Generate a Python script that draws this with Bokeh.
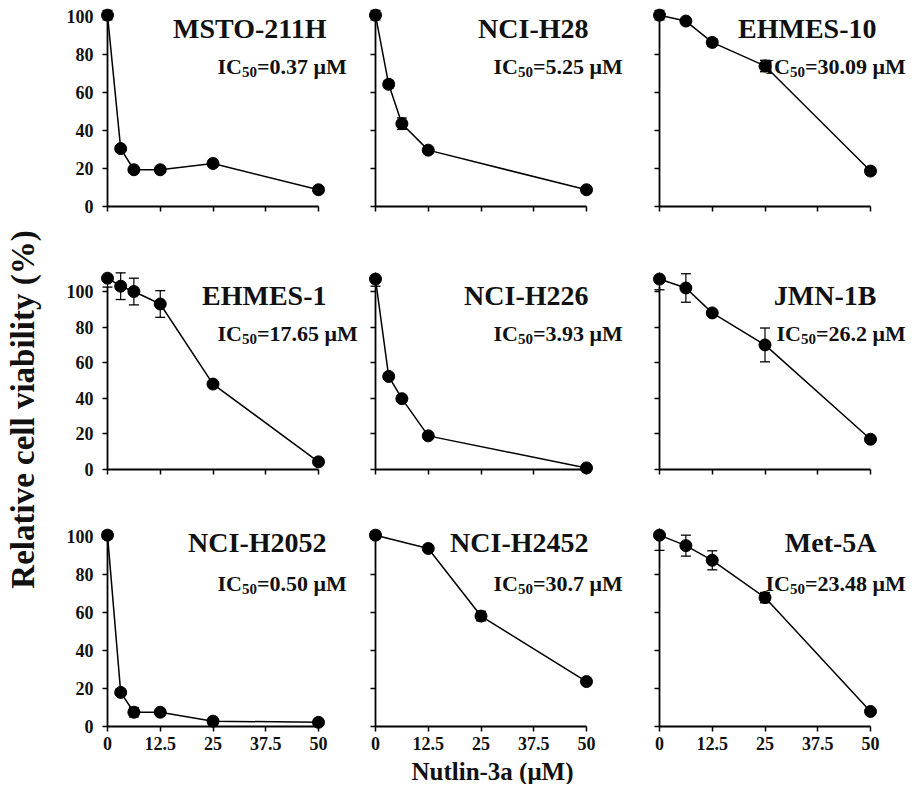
import math
from bokeh.plotting import figure
from bokeh.models import Range1d, Label, FixedTicker, CustomJSTickFormatter
from bokeh.layouts import row, column
from bokeh.embed import file_html
from bokeh.resources import INLINE
from bokeh.core.validation import silence
from bokeh.core.validation.warnings import MISSING_RENDERERS

silence(MISSING_RENDERERS, True)

# ---------------- data ----------------
cell_lines = ["MSTO-211H", "NCI-H28", "EHMES-10",
              "EHMES-1", "NCI-H226", "JMN-1B",
              "NCI-H2052", "NCI-H2452", "Met-5A"]
ic50_values = ["0.37", "5.25", "30.09",
               "17.65", "3.93", "26.2",
               "0.50", "30.7", "23.48"]

doses_msto = [0, 3.125, 6.25, 12.5, 25, 50]
via_msto = [100.5, 30.4, 19.3, 19.3, 22.6, 8.8]
err_msto = [2.5, 1.5, 1.5, 1.0, 1.5, 1.5]

doses_h28 = [0, 3.125, 6.25, 12.5, 50]
via_h28 = [100.5, 64.2, 43.5, 29.6, 8.8]
err_h28 = [2.5, 2.0, 3.0, 1.0, 1.5]

doses_ehmes10 = [0, 6.25, 12.5, 25, 50]
via_ehmes10 = [100.5, 97.4, 86.2, 73.8, 18.6]
err_ehmes10 = [2.5, 1.0, 2.0, 3.0, 1.5]

doses_ehmes1 = [0, 3.125, 6.25, 12.5, 25, 50]
via_ehmes1 = [107.5, 103.0, 100.0, 93.0, 48.0, 4.3]
err_ehmes1 = [5.0, 7.5, 7.5, 7.5, 1.5, 1.5]

doses_h226 = [0, 3.125, 6.25, 12.5, 50]
via_h226 = [107.0, 52.3, 39.8, 18.9, 0.9]
err_h226 = [4.0, 1.5, 1.5, 1.5, 1.0]

doses_jmn1b = [0, 6.25, 12.5, 25, 50]
via_jmn1b = [107.0, 102.0, 88.0, 70.0, 17.0]
err_jmn1b = [6.0, 8.0, 1.0, 9.5, 1.5]

doses_h2052 = [0, 3.125, 6.25, 12.5, 25, 50]
via_h2052 = [100.5, 17.9, 7.5, 7.5, 2.8, 2.2]
err_h2052 = [2.0, 1.0, 2.5, 1.0, 2.0, 1.0]

doses_h2452 = [0, 12.5, 25, 50]
via_h2452 = [100.5, 93.5, 58.0, 23.6]
err_h2452 = [2.0, 1.0, 2.5, 1.0]

doses_met5a = [0, 6.25, 12.5, 25, 50]
via_met5a = [100.5, 95.0, 87.3, 67.7, 7.9]
err_met5a = [8.0, 5.5, 5.0, 2.7, 1.0]

x_ticks = [0, 12.5, 25, 37.5, 50]
y_ticks = [0, 20, 40, 60, 80, 100]

series = [
    (doses_msto, via_msto, err_msto),
    (doses_h28, via_h28, err_h28),
    (doses_ehmes10, via_ehmes10, err_ehmes10),
    (doses_ehmes1, via_ehmes1, err_ehmes1),
    (doses_h226, via_h226, err_h226),
    (doses_jmn1b, via_jmn1b, err_jmn1b),
    (doses_h2052, via_h2052, err_h2052),
    (doses_h2452, via_h2452, err_h2452),
    (doses_met5a, via_met5a, err_met5a),
]

# ---------------- layout / style ----------------
FONT = "Liberation Serif"
INK = "#111111"
TOTAL_W, TOTAL_H = 908, 784
YLAB_W = 44

# column geometry (page pixels)
COL_L = [44, 362, 646, 908]        # figure edges
X0 = [107, 375, 659]               # pixel of dose 0
SX = 211 / 50.0                    # pixels per dose unit

# row geometry (page pixels)
ROW_T = [0, 240, 497, 758]         # figure edges
Y0 = [206, 469, 726]               # pixel of 0 %
SY = [1.903, 1.776, 1.903]         # pixels per % unit
Y_TOP = [104.0, 110.7, 104.0]      # top of each plot area (%)
Y_AXIS_END = [100, 103, 100]       # where the drawn y-axis line stops

TITLE_PX = [326, 588, 876]
TITLE_PY = [28, 295, 542]
IC_PX = [217, 493, 782]
IC_PY = [66, 333, 583]
IC_SIZE = 22
SUB_SIZE = 15
TICK_SIZE = "18px"

# Times / Liberation Serif Bold advance widths (em)
W_EM = {"I": 0.389, "C": 0.722, "=": 0.570, ".": 0.25, " ": 0.25,
        "\u03bc": 0.556, "M": 0.943}


def text_w(s, size):
    return sum(W_EM.get(ch, 0.5) for ch in s) * size


def style_axis(ax, standoff):
    ax.axis_line_color = "black"
    ax.axis_line_width = 1.8
    ax.major_tick_line_color = "black"
    ax.major_tick_line_width = 1.5
    ax.major_tick_out = 5
    ax.major_tick_in = 0
    ax.minor_tick_out = 0
    ax.minor_tick_in = 0
    ax.major_label_text_font = FONT
    ax.major_label_text_font_style = "bold"
    ax.major_label_text_font_size = TICK_SIZE
    ax.major_label_text_color = INK
    ax.major_label_standoff = standoff


def make_panel(i):
    r, c = divmod(i, 3)
    doses, via, err = series[i]
    fw = COL_L[c + 1] - COL_L[c]
    fh = ROW_T[r + 1] - ROW_T[r]
    bl = X0[c] - COL_L[c]
    bt = int(round(Y0[r] - Y_TOP[r] * SY[r])) - ROW_T[r]
    bb = ROW_T[r + 1] - Y0[r]
    frame_w = fw - bl
    p = figure(width=fw, height=fh,
               x_range=Range1d(0, frame_w / SX), y_range=Range1d(0, Y_TOP[r]),
               output_backend="svg", toolbar_location=None,
               min_border_left=bl, min_border_right=0,
               min_border_top=bt, min_border_bottom=bb)
    p.outline_line_color = None
    p.grid.visible = False
    show_x = (r == 2)
    show_y = (c == 0)
    xax = p.below[0]
    yax = p.left[0]
    xax.bounds = (0, 50)
    yax.bounds = (0, Y_AXIS_END[r])
    xax.ticker = FixedTicker(ticks=x_ticks)
    yax.ticker = FixedTicker(ticks=y_ticks)
    xax.formatter = CustomJSTickFormatter(code="return tick.toString()" if show_x else "return ''")
    yax.formatter = CustomJSTickFormatter(code="return tick.toString()" if show_y else "return ''")
    style_axis(xax, 5 if show_x else 0)
    style_axis(yax, 9 if show_y else 0)

    # error bars: the plot area cuts off what lies above its top
    top = Y_TOP[r]
    lo = [v - e for v, e in zip(via, err)]
    hi = [min(v + e, top) for v, e in zip(via, err)]
    cap_x = [d for d, v, e in zip(doses, via, err) if v + e <= top]
    cap_hi = [v + e for v, e in zip(via, err) if v + e <= top]

    lvl = "overlay"
    p.line(doses, via, line_color="black", line_width=1.5, level=lvl)
    p.segment(x0=doses, y0=lo, x1=doses, y1=hi, line_color="black", line_width=1.2, level=lvl)
    p.scatter(doses, lo, marker="dash", size=10, line_color="black", line_width=1.3, level=lvl)
    p.scatter(cap_x, cap_hi, marker="dash", size=10, line_color="black", line_width=1.3, level=lvl)
    p.scatter(doses, via, marker="circle", size=12, fill_color="black", line_color="black", level=lvl)

    # texts (positions converted from page pixels to data units)
    tx = (TITLE_PX[c] - X0[c]) / SX
    ty = (Y0[r] - TITLE_PY[r]) / SY[r]
    p.add_layout(Label(x=tx, y=ty, text=cell_lines[i],
                       text_font=FONT, text_font_style="bold", text_font_size="28px",
                       text_align="right", text_baseline="middle", text_color=INK))
    rest = f"={ic50_values[i]} \u03bcM"
    w_ic = text_w("IC", IC_SIZE)
    w_sub = text_w("50", SUB_SIZE)
    total = w_ic + w_sub + text_w(rest, IC_SIZE)
    left_px = min(IC_PX[c], COL_L[c + 1] - 3 - total)
    common = dict(x=(left_px - X0[c]) / SX, y=(Y0[r] - IC_PY[r]) / SY[r],
                  text_font=FONT, text_font_style="bold", text_align="left",
                  text_baseline="middle", text_color=INK)
    p.add_layout(Label(text="IC", text_font_size=f"{IC_SIZE}px", **common))
    p.add_layout(Label(text="50", text_font_size=f"{SUB_SIZE}px",
                       x_offset=w_ic, y_offset=-6, **common))
    p.add_layout(Label(text=rest, text_font_size=f"{IC_SIZE}px",
                       x_offset=w_ic + w_sub, **common))
    return p


panels = [make_panel(i) for i in range(9)]
grid_rows = [row(*panels[3 * r:3 * r + 3]) for r in range(3)]

GRID_W = TOTAL_W - YLAB_W
XLAB_H = TOTAL_H - ROW_T[3]

xlab = figure(width=GRID_W, height=XLAB_H, x_range=Range1d(0, GRID_W), y_range=Range1d(0, XLAB_H),
              output_backend="svg", toolbar_location=None, x_axis_type=None, y_axis_type=None,
              min_border=0)
xlab.outline_line_color = None
xlab.add_layout(Label(x=492 - YLAB_W, y=XLAB_H / 2, text="Nutlin-3a (\u03bcM)", text_font=FONT,
                      text_font_style="bold", text_font_size="25px", text_align="center",
                      text_baseline="middle", text_color=INK))

ylab = figure(width=YLAB_W, height=TOTAL_H, x_range=Range1d(0, YLAB_W), y_range=Range1d(0, TOTAL_H),
              output_backend="svg", toolbar_location=None, x_axis_type=None, y_axis_type=None,
              min_border=0)
ylab.outline_line_color = None
ylab.add_layout(Label(x=22, y=TOTAL_H - 409, text="Relative cell viability (%)", text_font=FONT,
                      text_font_style="bold", text_font_size="33px", text_align="center",
                      text_baseline="middle", angle=math.pi / 2, text_color=INK))

layout = row(ylab, column(*grid_rows, xlab))

open("out.html", "w").write(file_html(layout, INLINE))
